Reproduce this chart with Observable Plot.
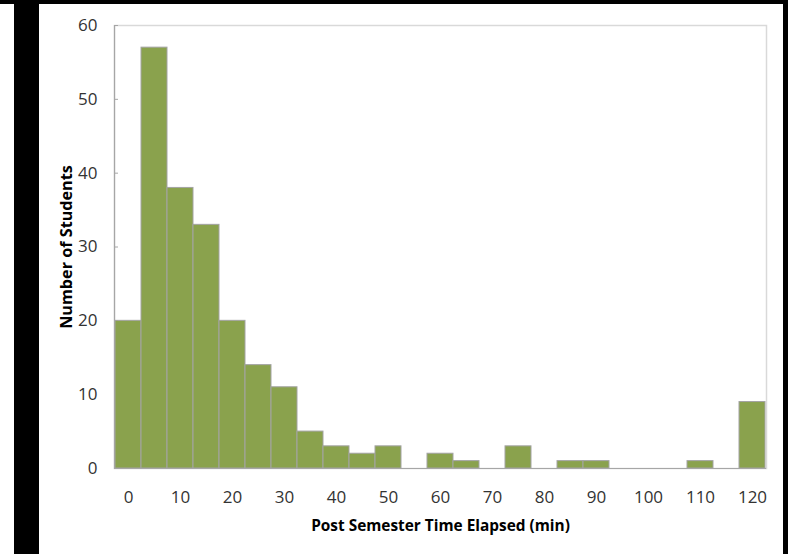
<!DOCTYPE html>
<html>
<head>
<meta charset="utf-8">
<script src="https://cdn.jsdelivr.net/npm/d3@7"></script>
<script src="https://cdn.jsdelivr.net/npm/@observablehq/plot@0.6"></script>
<style>
  html, body { margin: 0; padding: 0; background: #fff; }
  #wrap { position: relative; width: 788px; height: 554px; overflow: hidden; background: #fff; }
  #chart { position: absolute; left: 0; top: 0; }
  .band { position: absolute; background: #000; }
</style>
</head>
<body>
<div id="wrap">
  <div id="chart"></div>
  <div class="band" style="left:0;top:0;width:788px;height:4px"></div>
  <div class="band" style="left:14px;top:0;width:25px;height:554px"></div>
  <div class="band" style="left:783px;top:0;width:5px;height:554px"></div>
</div>
<script>
const bins = [0, 5, 10, 15, 20, 25, 30, 35, 40, 45, 50, 55, 60, 65, 70, 75, 80, 85, 90, 95, 100, 105, 110, 115, 120];
const counts = [20, 57, 38, 33, 20, 14, 11, 5, 3, 2, 3, 0, 2, 1, 0, 3, 0, 1, 1, 0, 0, 0, 1, 0, 9];
const xTicks = [0, 10, 20, 30, 40, 50, 60, 70, 80, 90, 100, 110, 120];
const yTicks = [0, 10, 20, 30, 40, 50, 60];
const xLabel = "Post Semester Time Elapsed (min)";
const yLabel = "Number of Students";

const data = bins.map((b, i) => ({bin: b, count: counts[i]}));

const chart = Plot.plot({
  width: 788,
  height: 554,
  marginLeft: 114,
  marginRight: 22,
  marginTop: 25,
  marginBottom: 86,
  style: {fontFamily: "'Open Sans', sans-serif", fontSize: "17px", color: "#333", background: "#fff"},
  x: {type: "band", domain: bins, padding: 0, label: null},
  y: {domain: [0, 60], label: null},
  marks: [
    Plot.frame({stroke: "#d9d9d9", strokeWidth: 1.5}),
    Plot.frame({anchor: "left", stroke: "#a6a6a6", strokeWidth: 1.2}),
    Plot.axisY({ticks: yTicks, tickSize: 4, dx: 4, stroke: "#a6a6a6", tickFormat: () => "", label: null}),
    Plot.barY(data, {x: "bin", y: "count", fill: "#8aa24d", stroke: "#a3a3a3", strokeWidth: 1}),
    Plot.ruleY([0], {stroke: "#a6a6a6", strokeWidth: 1.2}),
    Plot.axisY({ticks: yTicks, tickSize: 0, tickPadding: 17, fontSize: 17, fill: "#333", label: null}),
    Plot.axisX({ticks: xTicks, tickSize: 0, tickPadding: 22, fontSize: 17, fill: "#333", label: null}),
    Plot.text([xLabel], {frameAnchor: "bottom", dy: 62, fontWeight: "bold", fontSize: 15.4, fill: "#000"}),
    Plot.text([yLabel], {frameAnchor: "left", textAnchor: "middle", dx: -48, rotate: -90, fontWeight: "bold", fontSize: 16.2, fill: "#000"})
  ]
});
document.getElementById("chart").appendChild(chart);
</script>
</body>
</html>
